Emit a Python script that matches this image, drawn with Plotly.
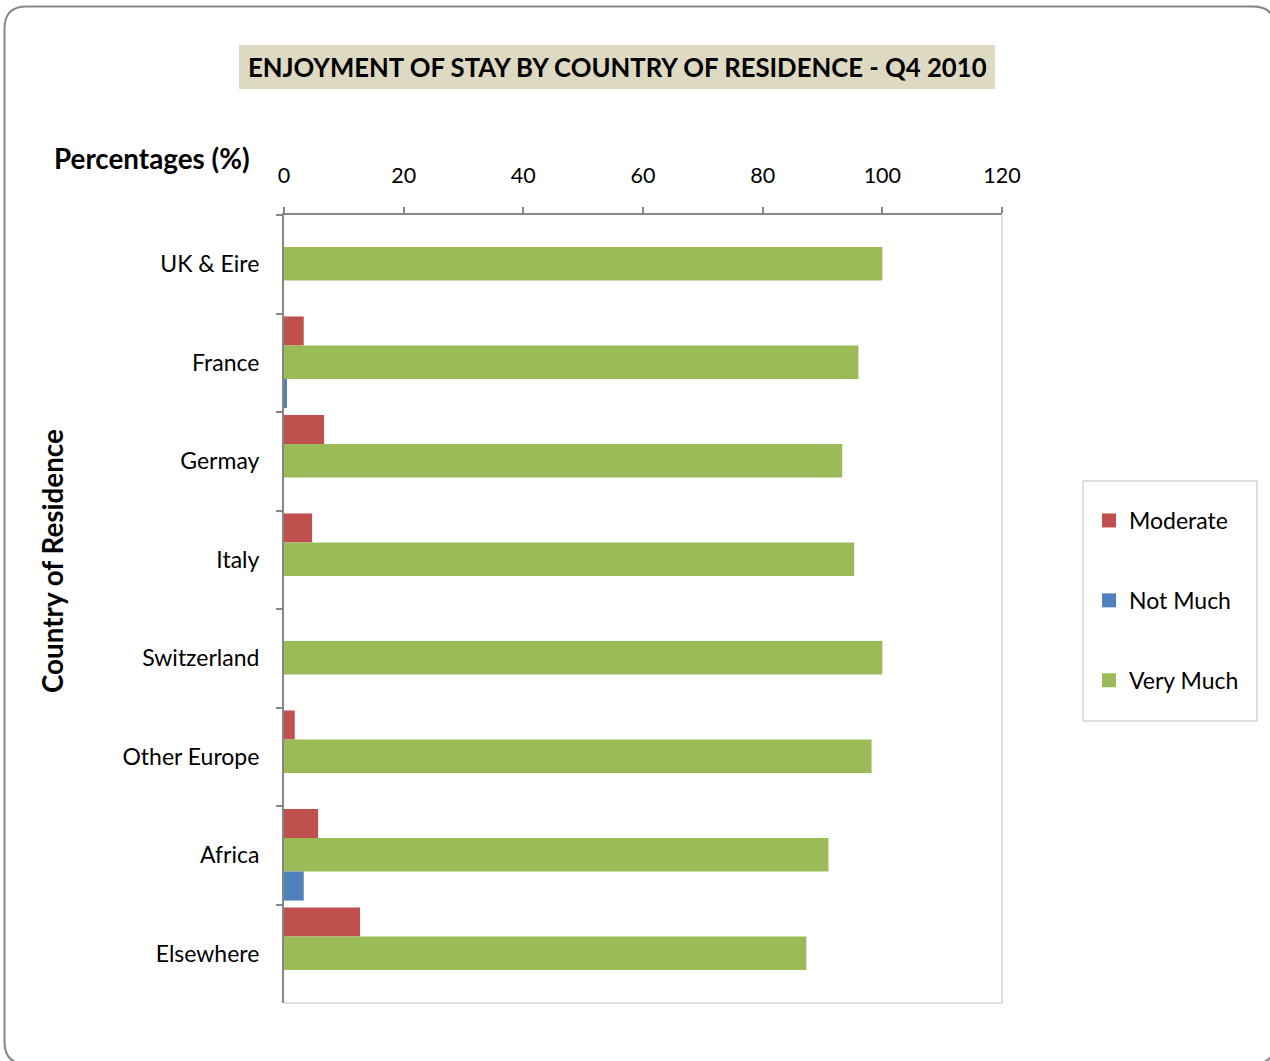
import plotly.graph_objects as go

categories = ["UK & Eire", "France", "Germay", "Italy", "Switzerland",
              "Other Europe", "Africa", "Elsewhere"]
moderate = [0, 3.3, 6.7, 4.7, 0, 1.8, 5.7, 12.7]
very_much = [100, 96.0, 93.3, 95.3, 100, 98.2, 91.0, 87.3]
not_much = [0, 0.5, 0, 0, 0, 0, 3.3, 0]
x_ticks = [0, 20, 40, 60, 80, 100, 120]

COL_MOD = "#C0504D"
COL_VM = "#9BBB59"
COL_NM = "#4F81BD"

W, H = 1270, 1061
L, R, T, B = 284, 1002, 215, 1003
FONT = "Lato"


def px(x):
    return (x - L) / (R - L)


def py(y):
    return (B - y) / (B - T)


fig = go.Figure()
fig.add_trace(go.Bar(y=categories, x=moderate, orientation="h", name="Moderate",
                     marker=dict(color=COL_MOD, line=dict(width=0)),
                     offset=-0.47, width=0.295, showlegend=False))
fig.add_trace(go.Bar(y=categories, x=very_much, orientation="h", name="Very Much",
                     marker=dict(color=COL_VM, line=dict(width=0)),
                     offset=-0.175, width=0.34, showlegend=False))
fig.add_trace(go.Bar(y=categories, x=not_much, orientation="h", name="Not Much",
                     marker=dict(color=COL_NM, line=dict(width=0)),
                     offset=0.165, width=0.295, showlegend=False))

# legend entries (square swatches)
for name, col, rank in [("Moderate", COL_MOD, 1), ("Not Much", COL_NM, 2),
                        ("Very Much", COL_VM, 3)]:
    fig.add_trace(go.Scatter(x=[None], y=[None], mode="markers", name=name,
                             marker=dict(symbol="square", size=14, color=col),
                             legendrank=rank, legendgroup=name, showlegend=True))

shapes = []
x0, y0, x1, y1, r = 4.5, 6.5, 1275, 1064, 22


def P(x, y):
    return f"{px(x):.5f},{py(y):.5f}"


path = (f"M {P(x0+r, y0)} L {P(x1-r, y0)} Q {P(x1, y0)} {P(x1, y0+r)} "
        f"L {P(x1, y1-r)} Q {P(x1, y1)} {P(x1-r, y1)} L {P(x0+r, y1)} "
        f"Q {P(x0, y1)} {P(x0, y1-r)} L {P(x0, y0+r)} Q {P(x0, y0)} {P(x0+r, y0)} Z")
shapes.append(dict(type="path", xref="paper", yref="paper", path=path,
                   line=dict(color="#868686", width=2), layer="below"))
shapes.append(dict(type="rect", xref="paper", yref="paper",
                   x0=px(239), x1=px(995), y0=py(89), y1=py(45),
                   fillcolor="#DDD9C3", line=dict(width=0), layer="below"))
shapes.append(dict(type="line", xref="paper", yref="paper", x0=1, x1=1, y0=0, y1=1,
                   line=dict(color="#BFBFBF", width=1)))
shapes.append(dict(type="line", xref="paper", yref="paper", x0=0, x1=1, y0=0, y1=0,
                   line=dict(color="#BFBFBF", width=1)))
shapes.append(dict(type="rect", xref="paper", yref="paper",
                   x0=px(1083), x1=px(1257), y0=py(721), y1=py(481),
                   line=dict(color="#BFBFBF", width=1), fillcolor="rgba(0,0,0,0)"))

annotations = [
    dict(text="<b>ENJOYMENT OF STAY BY COUNTRY OF RESIDENCE - Q4 2010</b>",
         xref="paper", yref="paper", x=px(617), y=py(67), xanchor="center",
         yanchor="middle", showarrow=False, font=dict(size=25.7, color="black", family=FONT)),
    dict(text="<b>Percentages (%)</b>", xref="paper", yref="paper",
         x=px(52), y=py(158), xanchor="left", yanchor="middle", showarrow=False,
         font=dict(size=27.8, color="black", family=FONT)),
    dict(text="<b>Country of Residence</b>", xref="paper", yref="paper",
         x=px(52), y=py(561), xanchor="center", yanchor="middle", showarrow=False,
         textangle=-90, font=dict(size=27.8, color="black", family=FONT)),
]

fig.update_layout(
    width=W, height=H,
    margin=dict(l=L, r=W - R, t=T, b=H - B, pad=0),
    paper_bgcolor="white", plot_bgcolor="white",
    barmode="overlay",
    font=dict(family=FONT, size=23, color="black"),
    shapes=shapes, annotations=annotations,
    showlegend=True,
    legend=dict(x=px(1089), y=py(499), xanchor="left", yanchor="top",
                bgcolor="rgba(0,0,0,0)", tracegroupgap=47,
                font=dict(size=23, family=FONT, color="black")),
    xaxis=dict(side="top", range=[0, 120], tickvals=x_ticks, ticks="outside",
               ticklen=6, tickcolor="#868686", tickwidth=1.5, showline=True,
               linecolor="#868686", linewidth=2, showgrid=False, zeroline=False,
               ticklabelstandoff=15, tickfont=dict(size=21.5)),
    yaxis=dict(type="category", autorange="reversed", ticks="outside",
               tickson="boundaries", ticklen=6, tickcolor="#868686", tickwidth=1.5,
               showline=True, linecolor="#868686", linewidth=2, showgrid=False,
               zeroline=False, ticklabelstandoff=18, tickfont=dict(size=23)),
)

fig.write_html("out.html", config={"displayModeBar": False},
               post_script="document.body.style.margin='0';")
